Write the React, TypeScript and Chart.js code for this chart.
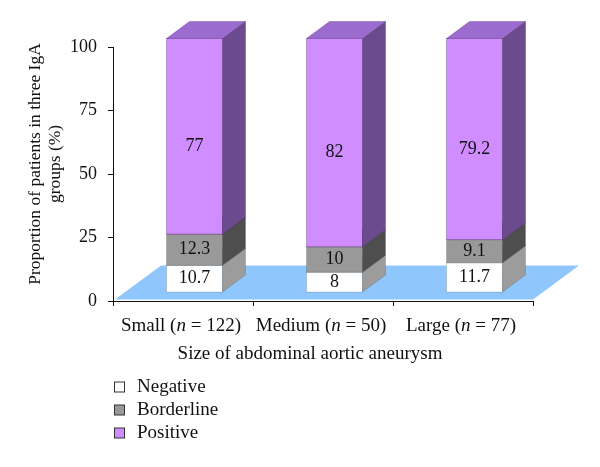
import React, { useEffect, useRef } from "react";
import { Chart, registerables } from "chart.js";

Chart.register(...registerables);

const categories = ["Small", "Medium", "Large"];
const categoryN = ["122", "50", "77"];
const seriesNames = ["Negative", "Borderline", "Positive"];
const negative = [10.7, 8, 11.7];
const borderline = [12.3, 10, 9.1];
const positive = [77, 82, 79.2];
const yTicks = [0, 25, 50, 75, 100];

const FONT = "'Liberation Serif', 'DejaVu Serif', serif";
const faceColors = [
  { front: "#ffffff", side: "#9c9c9c", top: "#d4d4d4", edge: "rgba(0,0,0,0.18)" },
  { front: "#999999", side: "#4e4e4e", top: "#6f6f6f", edge: "rgba(0,0,0,0.18)" },
  { front: "#cf8dff", side: "#6b4b8e", top: "#9b6bcf", edge: "rgba(60,20,90,0.35)" },
];
const floorColor = "#8fc6fb";
// depth vector of the floor (pixels)
const DX = 46;
const DY = -34;

const threeD = {
  id: "threeD",
  beforeDatasetsDraw(chart: any) {
    const { ctx, chartArea } = chart;
    const fx = DX * 0.25, fy = DY * 0.25;
    const sx = DX * 0.5, sy = DY * 0.5;
    ctx.save();
    // floor
    const fl = chartArea.left + 2, fr = chartArea.right, fb = chartArea.bottom - 1.5;
    ctx.fillStyle = floorColor;
    ctx.beginPath();
    ctx.moveTo(fl, fb);
    ctx.lineTo(fr, fb);
    ctx.lineTo(fr + DX, fb + DY);
    ctx.lineTo(fl + DX, fb + DY);
    ctx.closePath();
    ctx.fill();

    const nCat = chart.data.labels.length;
    const labels: any[] = [];
    for (let i = 0; i < nCat; i++) {
      for (let d = 0; d < chart.data.datasets.length; d++) {
        const meta = chart.getDatasetMeta(d);
        const el = meta.data[i];
        const p = el.getProps(["x", "y", "base", "width"], true);
        const left = p.x - p.width / 2 + fx;
        const right = p.x + p.width / 2 + fx;
        const top = Math.min(p.y, p.base) + fy;
        const bottom = Math.max(p.y, p.base) + fy;
        const c = faceColors[d];
        ctx.lineWidth = 0.8;
        ctx.strokeStyle = c.edge;
        // front
        ctx.fillStyle = c.front;
        ctx.fillRect(left, top, right - left, bottom - top);
        ctx.strokeRect(left, top, right - left, bottom - top);
        // side
        ctx.fillStyle = c.side;
        ctx.beginPath();
        ctx.moveTo(right, bottom);
        ctx.lineTo(right + sx, bottom + sy);
        ctx.lineTo(right + sx, top + sy);
        ctx.lineTo(right, top);
        ctx.closePath();
        ctx.fill();
        ctx.stroke();
        // top
        ctx.fillStyle = c.top;
        ctx.beginPath();
        ctx.moveTo(left, top);
        ctx.lineTo(left + sx, top + sy);
        ctx.lineTo(right + sx, top + sy);
        ctx.lineTo(right, top);
        ctx.closePath();
        ctx.fill();
        ctx.stroke();
        const v = chart.data.datasets[d].data[i];
        const last = d === chart.data.datasets.length - 1;
        labels.push({ x: (left + right) / 2, y: (top + bottom) / 2 + (last ? 10 : 0), text: String(v) });
      }
    }
    ctx.fillStyle = "#111";
    ctx.font = `18px ${FONT}`;
    ctx.textAlign = "center";
    ctx.textBaseline = "middle";
    for (const l of labels) ctx.fillText(l.text, l.x, l.y);
    ctx.restore();
    return false;
  },
  afterDraw(chart: any) {
    const { ctx, chartArea, scales } = chart;
    ctx.save();
    ctx.fillStyle = "#111";
    ctx.textBaseline = "middle";
    // x category labels with italic n
    const xs = scales.x;
    for (let i = 0; i < categories.length; i++) {
      const cx = xs.getPixelForValue(i) - 2;
      const parts = [
        { t: `${categories[i]} (`, f: `19px ${FONT}` },
        { t: "n", f: `italic 19px ${FONT}` },
        { t: ` = ${categoryN[i]})`, f: `19px ${FONT}` },
      ];
      let total = 0;
      for (const pt of parts) {
        ctx.font = pt.f;
        total += ctx.measureText(pt.t).width;
      }
      let x = cx - total / 2;
      ctx.textAlign = "left";
      for (const pt of parts) {
        ctx.font = pt.f;
        ctx.fillText(pt.t, x, 326);
        x += ctx.measureText(pt.t).width;
      }
    }
    // x title
    ctx.font = `19px ${FONT}`;
    ctx.textAlign = "center";
    ctx.fillText("Size of abdominal aortic aneurysm", (chartArea.left + chartArea.right) / 2 - 13, 354);
    // y title
    ctx.save();
    ctx.font = `17.5px ${FONT}`;
    ctx.translate(35, 164);
    ctx.rotate(-Math.PI / 2);
    ctx.fillText("Proportion of patients in three IgA", 0, 0);
    ctx.fillText("groups (%)", 0, 20);
    ctx.restore();
    // legend
    const ly = [387, 410, 433];
    for (let d = 0; d < seriesNames.length; d++) {
      ctx.fillStyle = faceColors[d].front;
      ctx.fillRect(114.5, ly[d] - 5, 10, 10);
      ctx.strokeStyle = "#333";
      ctx.lineWidth = 1;
      ctx.strokeRect(114.5, ly[d] - 5, 10, 10);
      ctx.fillStyle = "#111";
      ctx.textAlign = "left";
      ctx.font = `19px ${FONT}`;
      ctx.fillText(seriesNames[d], 137, ly[d]);
    }
    ctx.restore();
  },
};

export default function App() {
  const ref = useRef<HTMLCanvasElement | null>(null);
  useEffect(() => {
    if (!ref.current) return;
    const series = [negative, borderline, positive];
    const chart = new Chart(ref.current, {
      type: "bar",
      data: {
        labels: categories,
        datasets: seriesNames.map((name, d) => ({
          label: name,
          data: series[d],
          backgroundColor: faceColors[d].front,
          barPercentage: 0.4,
          categoryPercentage: 1.0,
        })),
      },
      options: {
        responsive: false,
        animation: false,
        devicePixelRatio: 1,
        layout: { padding: { top: 47, right: 67, left: 0, bottom: 0 } },
        plugins: { legend: { display: false }, tooltip: { enabled: false } },
        scales: {
          x: {
            stacked: true,
            offset: true,
            grid: { offset: true, drawOnChartArea: false, tickLength: 5, color: "#111" },
            border: { display: true, color: "#111", width: 1 },
            ticks: { display: false },
            afterFit: (s: any) => { s.height = 166; },
          },
          y: {
            stacked: true,
            min: 0,
            max: 100,
            afterBuildTicks: (s: any) => { s.ticks = yTicks.map((v) => ({ value: v })); },
            grid: { drawOnChartArea: false, tickLength: 5, color: "#111" },
            border: { display: true, color: "#111", width: 1 },
            ticks: { color: "#111", padding: 11, font: { family: FONT, size: 18 } },
            afterFit: (s: any) => { s.width = 113; },
          },
        },
      },
      plugins: [threeD],
    } as any);
    return () => chart.destroy();
  }, []);
  return (
    <div style={{ position: "absolute", left: 0, top: 0, width: 600, height: 467, background: "#fff" }}>
      <canvas ref={ref} width={600} height={467} />
    </div>
  );
}
